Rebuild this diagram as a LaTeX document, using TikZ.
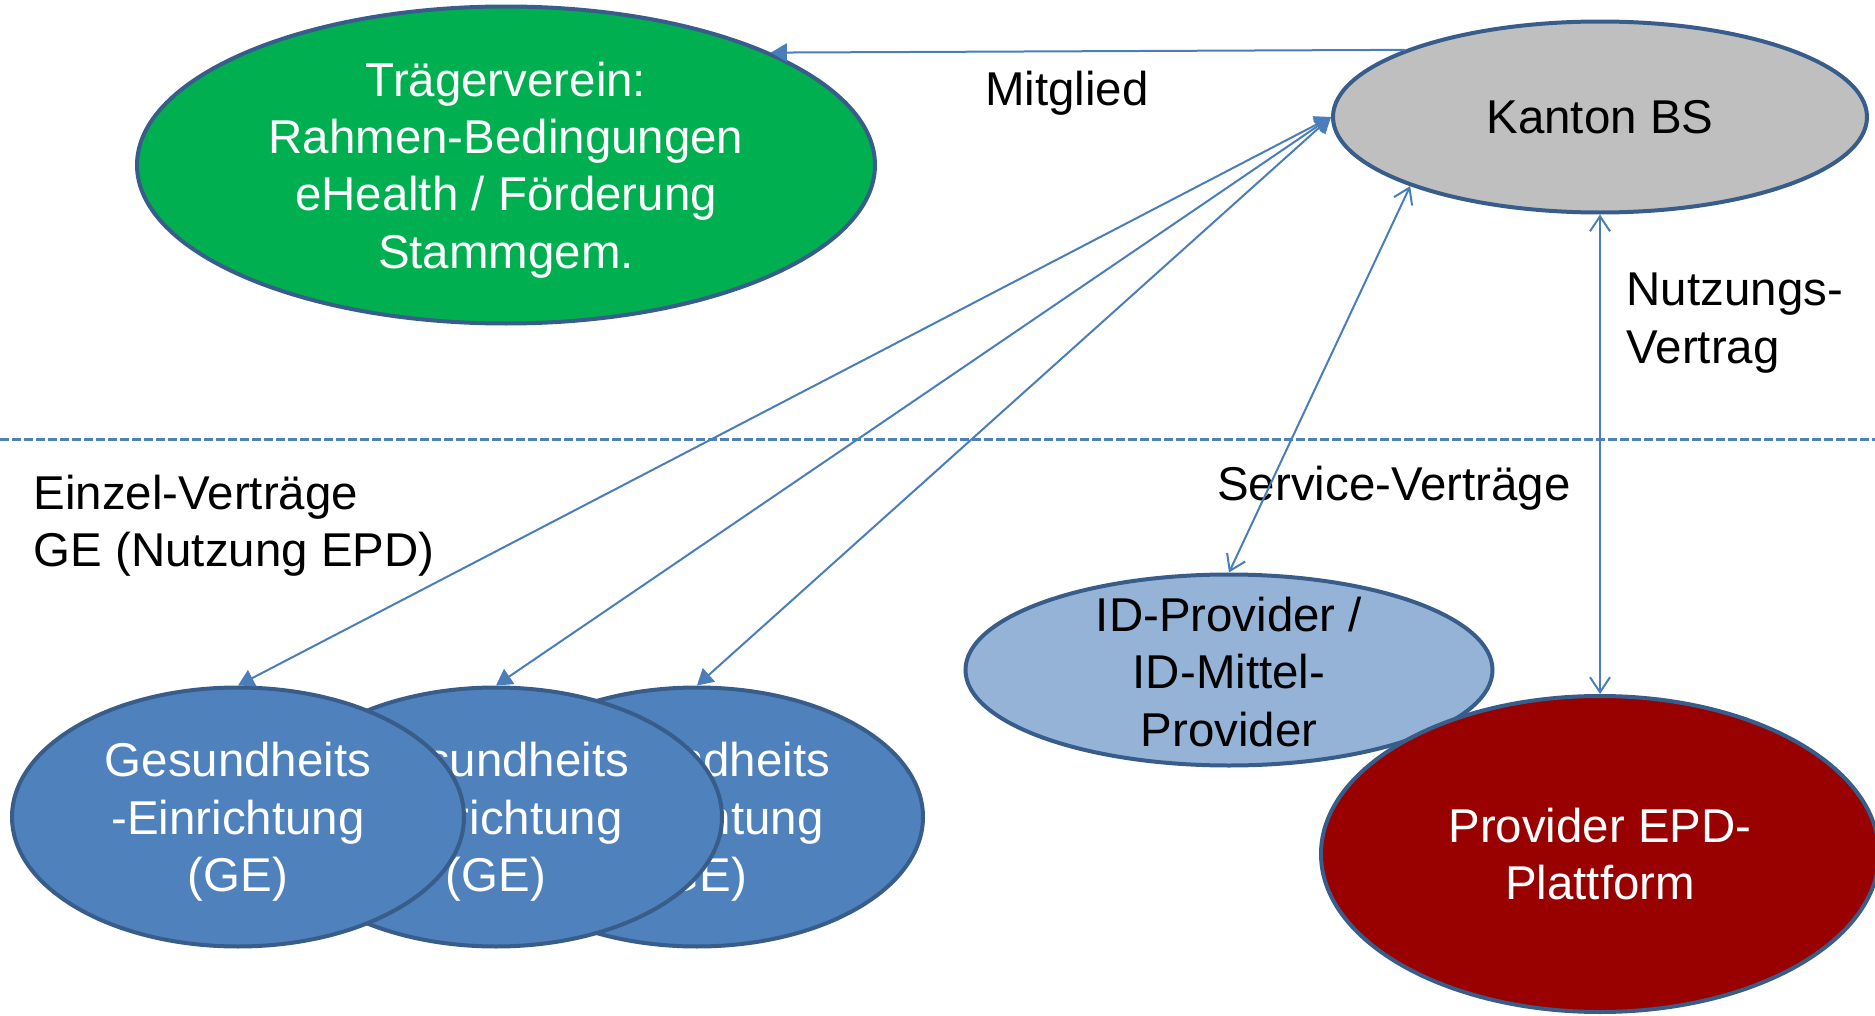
\documentclass[tikz,border=0pt]{standalone}
\usepackage{fontspec}
\setmainfont{Liberation Sans}
\usetikzlibrary{arrows.meta, positioning, shapes.geometric}
\definecolor{pptgreen}{HTML}{00B050}
\definecolor{pptborder}{HTML}{385D8A}
\definecolor{pptgrey}{HTML}{BFBFBF}
\definecolor{pptblue}{HTML}{4F81BD}
\definecolor{pptlight}{HTML}{95B3D7}
\definecolor{pptred}{HTML}{990000}
\definecolor{pptline}{HTML}{4A7EBB}
\tikzset{%
	party/.style={draw=pptborder, line width=0.04cm, ellipse, inner sep=0mm, align=center,%
		text depth=0pt, font=\fontsize{13.5}{16.3}\selectfont},
	verein/.style={party, fill=pptgreen, text=white, minimum width=7.38cm, minimum height=3.17cm},
	kanton/.style={party, fill=pptgrey, minimum width=5.34cm, minimum height=1.91cm},
	gebox/.style={party, fill=pptblue, text=white, minimum width=4.52cm, minimum height=2.59cm},
	idbox/.style={party, fill=pptlight, minimum width=5.27cm, minimum height=1.91cm},
	plattform/.style={party, fill=pptred, text=white, minimum width=5.58cm, minimum height=3.16cm},
	infotext/.style={align=left, inner sep=0mm, font=\fontsize{13.5}{16.3}\selectfont},
	member/.style={draw=pptline, line width=0.02cm, -{Triangle[length=1.6mm, width=1.8mm]}},
	vertrag/.style={draw=pptline, line width=0.02cm,%
		{Triangle[length=1.6mm, width=1.8mm]}-{Triangle[length=1.6mm, width=1.8mm]}},
	service/.style={draw=pptline, line width=0.02cm,%
		{Straight Barb[length=1.5mm, width=2mm]}-{Straight Barb[length=1.5mm, width=2mm]}},
	grenze/.style={draw=pptblue, line width=0.03cm, dash pattern=on 0.09cm off 0.03cm}
}

\begin{document}
\begin{tikzpicture}
	\useasboundingbox (0,0) rectangle (18.75,10.15);

	\coordinate (links) at (0,5.76);
	\coordinate (rechts) at (18.75,5.76);
	\draw[grenze] (links) -- (rechts);

	\node[gebox] (ge3) at (6.97,1.98) {Gesundheits\\-Einrichtung\\(GE)};
	\node[gebox] (ge2) at (4.96,1.98) {Gesundheits\\-Einrichtung\\(GE)};
	\node[gebox] (ge1) at (2.38,1.98) {Gesundheits\\-Einrichtung\\(GE)};

	\node[verein] (verein) at (5.06,8.50) {Trägerverein:\\Rahmen-Bedingungen\\eHealth / Förderung\\Stammgem.};
	\node[kanton] (bs) at (16.00,8.98) {Kanton BS};
	\node[idbox] (idp) at (12.29,3.45) {};
	\node[infotext, align=center] (idptext) at (12.29,3.43) {ID-Provider /\\ID-Mittel-\\Provider};
	\node[plattform] (epd) at (16.00,1.61) {Provider EPD-\\Plattform};

	\node[infotext] (mitglied) at (10.67,9.22) {Mitglied};
	\node[infotext, anchor=west] (nutzung) at (16.26,6.92) {Nutzungs-\\Vertrag};
	\node[infotext, anchor=west] (einzel) at (0.33,4.89) {Einzel-Verträge\\GE (Nutzung EPD)};
	\node[infotext] (servicetext) at (13.94,5.27) {Service-Verträge};

	\draw[member] (bs.161) -- (verein.23);
	\draw[vertrag] (ge1.north) -- (bs.west);
	\draw[vertrag] (ge2.north) -- (bs.west);
	\draw[vertrag] (ge3.north) -- (bs.west);
	\draw[service] (bs.200) -- (idp.north);
	\draw[service] (bs.south) -- (epd.north);
\end{tikzpicture}
\end{document}
